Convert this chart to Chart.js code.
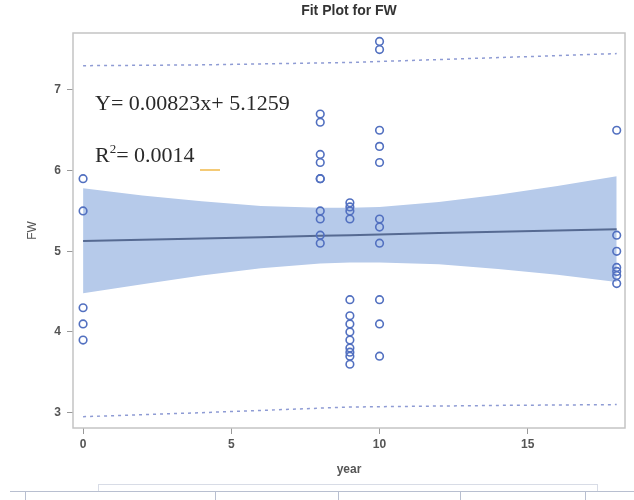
<!DOCTYPE html>
<html><head><meta charset="utf-8">
<script src="https://cdn.jsdelivr.net/npm/chart.js@4/dist/chart.umd.min.js"></script>
<style>
html,body{margin:0;padding:0;background:#fff;}
#wrap{position:relative;width:634px;height:500px;}
canvas{position:absolute;left:0;top:0;}
.hl{position:absolute;background:#b8bfd0;}
</style></head>
<body><div id="wrap"><canvas id="c" width="634" height="500"></canvas>
<div class="hl" style="left:10px;top:491px;width:624px;height:1px"></div>
<div class="hl" style="left:98px;top:484px;width:500px;height:1px;background:#d8dce6"></div>
<div class="hl" style="left:98px;top:484px;width:1px;height:7px;background:#d8dce6"></div>
<div class="hl" style="left:597px;top:484px;width:1px;height:7px;background:#d8dce6"></div>
<div class="hl" style="left:25px;top:491px;width:1px;height:9px"></div>
<div class="hl" style="left:215px;top:491px;width:1px;height:9px"></div>
<div class="hl" style="left:338px;top:491px;width:1px;height:9px"></div>
<div class="hl" style="left:460px;top:491px;width:1px;height:9px"></div>
<div class="hl" style="left:585px;top:491px;width:1px;height:9px"></div>
</div>
<script>
// observed points
const yearX = [0,0,0,0,0, 8,8,8,8,8,8,8,8,8,8, 9,9,9,9,9,9,9,9,9,9,9,9,9, 10,10,10,10,10,10,10,10,10,10,10, 18,18,18,18,18,18,18];
const fwY   = [5.9,5.5,4.3,4.1,3.9, 6.7,6.6,6.2,6.1,5.9,5.9,5.5,5.4,5.2,5.1, 5.6,5.55,5.5,5.4,4.4,4.2,4.1,4.0,3.9,3.8,3.75,3.7,3.6, 7.6,7.5,6.5,6.3,6.1,5.4,5.3,5.1,4.4,4.1,3.7, 6.5,5.2,5.0,4.8,4.75,4.7,4.6];
// fit line and bands
const fitX   = [0,2,4,6,8,9,10,12,14,16,18];
const fitY   = [5.126,5.142,5.159,5.175,5.192,5.200,5.208,5.225,5.241,5.258,5.274];
const clUp   = [5.78,5.69,5.62,5.56,5.54,5.54,5.55,5.61,5.70,5.81,5.93];
const clLow  = [4.48,4.59,4.70,4.79,4.85,4.86,4.86,4.84,4.78,4.71,4.62];
const plX    = [0,4,9,14,18];
const plUp   = [7.30,7.31,7.34,7.40,7.45];
const plLow  = [2.95,3.00,3.07,3.09,3.10];
const xTicks = [0,5,10,15];
const yTicks = [3,4,5,6,7];

const pts = (xs,ys)=>xs.map((x,i)=>({x:x,y:ys[i]}));

const overlay = {
  id:'overlay',
  afterDraw(chart){
    const {ctx, chartArea:a} = chart;
    ctx.save();
    ctx.strokeStyle='#c4c4c4'; ctx.lineWidth=1.5;
    ctx.strokeRect(a.left, a.top, a.right-a.left, a.bottom-a.top);
    ctx.fillStyle='#333';
    ctx.font='bold 14px "Liberation Sans", Arial, sans-serif';
    ctx.textAlign='center'; ctx.textBaseline='middle';
    ctx.fillText('Fit Plot for FW', (a.left+a.right)/2, 11);
    ctx.fillStyle='#2a2a2a';
    ctx.font='22px "Liberation Serif", "Times New Roman", serif';
    ctx.textAlign='left';
    ctx.fillText('Y= 0.00823x+ 5.1259', a.left+22, 104);
    ctx.fillText('R', a.left+22, 156);
    let w = ctx.measureText('R').width;
    ctx.font='13px "Liberation Serif", serif';
    ctx.fillText('2', a.left+22+w, 150);
    let w2 = ctx.measureText('2').width;
    ctx.font='22px "Liberation Serif", "Times New Roman", serif';
    ctx.fillText('= 0.0014', a.left+22+w+w2, 156);
    ctx.strokeStyle='#f0b848'; ctx.lineWidth=1.5;
    ctx.beginPath(); ctx.moveTo(a.left+127,170); ctx.lineTo(a.left+147,170); ctx.stroke();
    ctx.restore();
  }
};

new Chart(document.getElementById('c'), {
  type:'line',
  data:{datasets:[
    {label:'CLup', data:pts(fitX,clUp), borderWidth:0, pointRadius:0, backgroundColor:'rgb(182,202,234)', fill:'+1', order:5},
    {label:'CLlow', data:pts(fitX,clLow), borderWidth:0, pointRadius:0, fill:false, order:5},
    {label:'Fit', data:pts(fitX,fitY), borderColor:'#566a92', borderWidth:2, pointRadius:0, fill:false, order:3},
    {label:'PLup', data:pts(plX,plUp), borderColor:'#8e9bd4', borderWidth:1.5, borderDash:[3,4], pointRadius:0, fill:false, order:4},
    {label:'PLlow', data:pts(plX,plLow), borderColor:'#8e9bd4', borderWidth:1.5, borderDash:[3,4], pointRadius:0, fill:false, order:4},
    {label:'FW', type:'scatter', data:pts(yearX,fwY), showLine:false, pointStyle:'circle', pointRadius:3.8, pointBorderWidth:1.6, pointBorderColor:'#5270c0', pointBackgroundColor:'rgba(0,0,0,0)', order:1}
  ]},
  options:{
    responsive:false, animation:false,
    layout:{padding:{left:23,top:33,right:9,bottom:21}},
    plugins:{legend:{display:false}, tooltip:{enabled:false}},
    elements:{line:{tension:0}},
    scales:{
      x:{type:'linear', min:-0.34, max:18.28,
        afterBuildTicks(s){ s.ticks = xTicks.map(v=>({value:v})); },
        afterFit(s){ s.height = 51; },
        grid:{drawOnChartArea:false, color:'#999', tickLength:6, tickColor:'#999'},
        border:{display:false},
        ticks:{color:'#555', padding:3, font:{family:'"Liberation Sans", Arial, sans-serif', size:12, weight:'bold'}},
        title:{display:true, text:'year', color:'#555', padding:{top:4,bottom:2}, font:{family:'"Liberation Sans", Arial, sans-serif', size:12, weight:'bold'}}
      },
      y:{type:'linear', min:2.81, max:7.705,
        afterBuildTicks(s){ s.ticks = yTicks.map(v=>({value:v})); },
        afterFit(s){ s.width = 50; },
        grid:{drawOnChartArea:false, color:'#999', tickLength:6, tickColor:'#999'},
        border:{display:false},
        ticks:{color:'#555', padding:6, font:{family:'"Liberation Sans", Arial, sans-serif', size:12, weight:'bold'}},
        title:{display:true, text:'FW', color:'#555', padding:{top:2,bottom:2}, font:{family:'"Liberation Sans", Arial, sans-serif', size:12}}
      }
    }
  },
  plugins:[overlay]
});
</script></body></html>
